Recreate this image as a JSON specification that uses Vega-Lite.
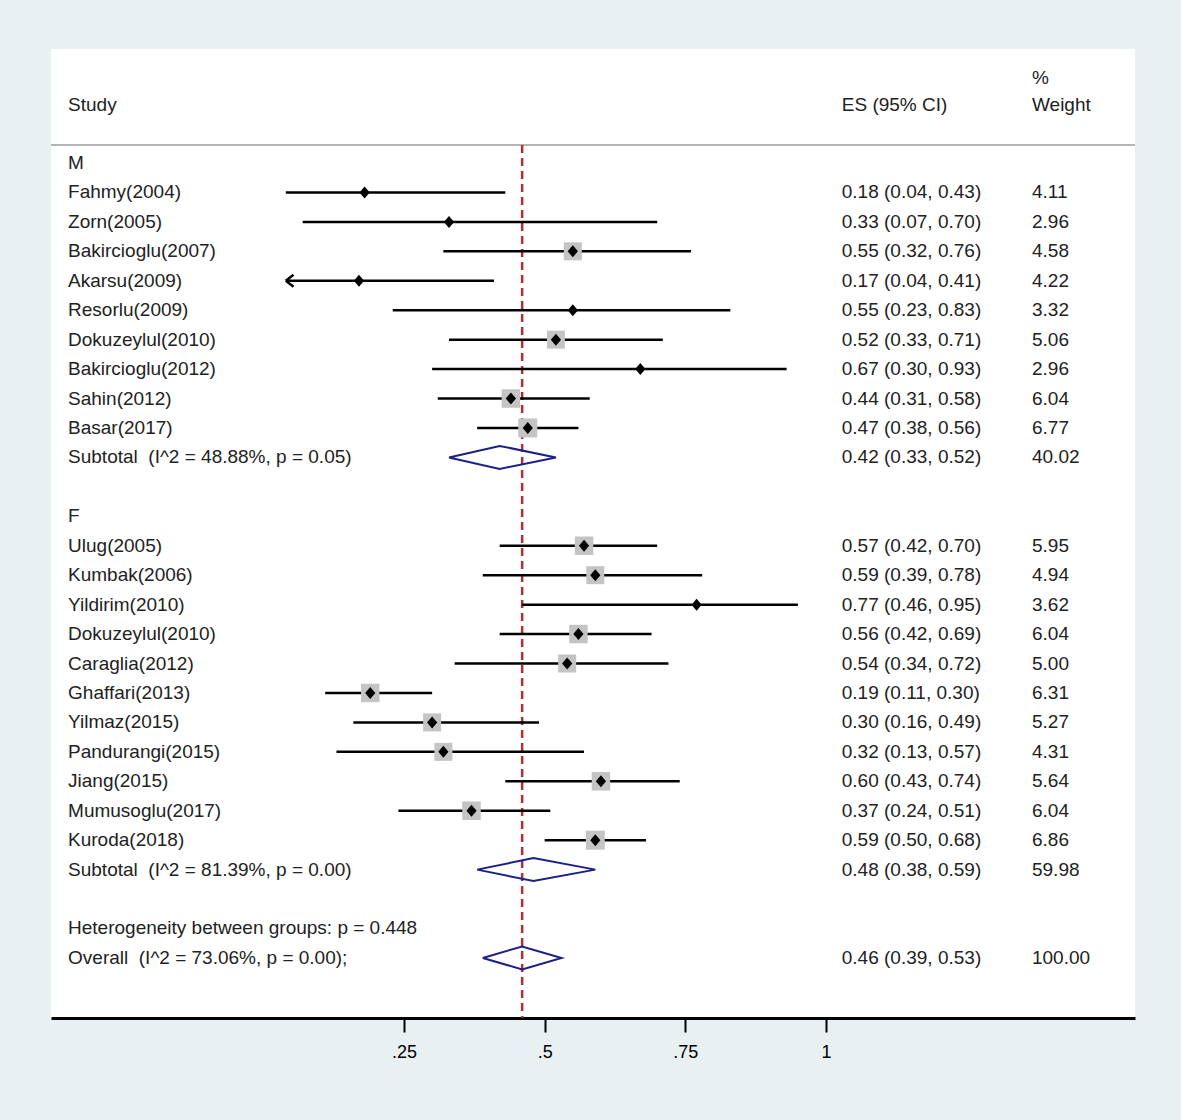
{
  "$schema": "https://vega.github.io/schema/vega-lite/v6.json",
  "width": 1084,
  "height": 969,
  "autosize": {"type": "none"},
  "padding": {"left": 51, "top": 49, "right": 46, "bottom": 102},
  "background": "#e8f0f2",
  "config": {
    "view": {"fill": "#ffffff", "stroke": null},
    "font": "Liberation Sans",
    "axisY": {"disable": true},
    "axisX": {
      "grid": false,
      "title": null,
      "domainColor": "#000000",
      "domainWidth": 3,
      "tickColor": "#000000",
      "tickWidth": 2,
      "tickSize": 14,
      "labelFont": "Liberation Sans",
      "labelFontSize": 18,
      "labelColor": "#000000",
      "labelPadding": 11
    },
    "text": {"font": "Liberation Sans", "fontSize": 19, "fill": "#222222", "align": "left", "baseline": "middle"}
  },
  "datasets": {
    "rows": [
      {"row": -2.89, "wt": "%", "kind": "header"},
      {"row": -1.97, "label": "Study", "estext": "ES (95% CI)", "wt": "Weight", "kind": "header"},
      {"row": 0, "label": "M", "kind": "group"},
      {"row": 1, "label": "Fahmy(2004)", "kind": "study", "es": 0.18, "lo": 0.04, "hi": 0.43, "weight": 4.11, "estext": "0.18 (0.04, 0.43)", "wt": "4.11"},
      {"row": 2, "label": "Zorn(2005)", "kind": "study", "es": 0.33, "lo": 0.07, "hi": 0.70, "weight": 2.96, "estext": "0.33 (0.07, 0.70)", "wt": "2.96"},
      {"row": 3, "label": "Bakircioglu(2007)", "kind": "study", "es": 0.55, "lo": 0.32, "hi": 0.76, "weight": 4.58, "estext": "0.55 (0.32, 0.76)", "wt": "4.58"},
      {"row": 4, "label": "Akarsu(2009)", "kind": "study", "es": 0.17, "lo": 0.04, "hi": 0.41, "weight": 4.22, "estext": "0.17 (0.04, 0.41)", "wt": "4.22", "arrow": "left"},
      {"row": 5, "label": "Resorlu(2009)", "kind": "study", "es": 0.55, "lo": 0.23, "hi": 0.83, "weight": 3.32, "estext": "0.55 (0.23, 0.83)", "wt": "3.32"},
      {"row": 6, "label": "Dokuzeylul(2010)", "kind": "study", "es": 0.52, "lo": 0.33, "hi": 0.71, "weight": 5.06, "estext": "0.52 (0.33, 0.71)", "wt": "5.06"},
      {"row": 7, "label": "Bakircioglu(2012)", "kind": "study", "es": 0.67, "lo": 0.30, "hi": 0.93, "weight": 2.96, "estext": "0.67 (0.30, 0.93)", "wt": "2.96"},
      {"row": 8, "label": "Sahin(2012)", "kind": "study", "es": 0.44, "lo": 0.31, "hi": 0.58, "weight": 6.04, "estext": "0.44 (0.31, 0.58)", "wt": "6.04"},
      {"row": 9, "label": "Basar(2017)", "kind": "study", "es": 0.47, "lo": 0.38, "hi": 0.56, "weight": 6.77, "estext": "0.47 (0.38, 0.56)", "wt": "6.77"},
      {"row": 10, "label": "Subtotal\u00a0\u00a0(I^2 = 48.88%, p = 0.05)", "kind": "subtotal", "es": 0.42, "lo": 0.33, "hi": 0.52, "weight": 40.02, "estext": "0.42 (0.33, 0.52)", "wt": "40.02"},
      {"row": 12, "label": "F", "kind": "group"},
      {"row": 13, "label": "Ulug(2005)", "kind": "study", "es": 0.57, "lo": 0.42, "hi": 0.70, "weight": 5.95, "estext": "0.57 (0.42, 0.70)", "wt": "5.95"},
      {"row": 14, "label": "Kumbak(2006)", "kind": "study", "es": 0.59, "lo": 0.39, "hi": 0.78, "weight": 4.94, "estext": "0.59 (0.39, 0.78)", "wt": "4.94"},
      {"row": 15, "label": "Yildirim(2010)", "kind": "study", "es": 0.77, "lo": 0.46, "hi": 0.95, "weight": 3.62, "estext": "0.77 (0.46, 0.95)", "wt": "3.62"},
      {"row": 16, "label": "Dokuzeylul(2010)", "kind": "study", "es": 0.56, "lo": 0.42, "hi": 0.69, "weight": 6.04, "estext": "0.56 (0.42, 0.69)", "wt": "6.04"},
      {"row": 17, "label": "Caraglia(2012)", "kind": "study", "es": 0.54, "lo": 0.34, "hi": 0.72, "weight": 5.00, "estext": "0.54 (0.34, 0.72)", "wt": "5.00"},
      {"row": 18, "label": "Ghaffari(2013)", "kind": "study", "es": 0.19, "lo": 0.11, "hi": 0.30, "weight": 6.31, "estext": "0.19 (0.11, 0.30)", "wt": "6.31"},
      {"row": 19, "label": "Yilmaz(2015)", "kind": "study", "es": 0.30, "lo": 0.16, "hi": 0.49, "weight": 5.27, "estext": "0.30 (0.16, 0.49)", "wt": "5.27"},
      {"row": 20, "label": "Pandurangi(2015)", "kind": "study", "es": 0.32, "lo": 0.13, "hi": 0.57, "weight": 4.31, "estext": "0.32 (0.13, 0.57)", "wt": "4.31"},
      {"row": 21, "label": "Jiang(2015)", "kind": "study", "es": 0.60, "lo": 0.43, "hi": 0.74, "weight": 5.64, "estext": "0.60 (0.43, 0.74)", "wt": "5.64"},
      {"row": 22, "label": "Mumusoglu(2017)", "kind": "study", "es": 0.37, "lo": 0.24, "hi": 0.51, "weight": 6.04, "estext": "0.37 (0.24, 0.51)", "wt": "6.04"},
      {"row": 23, "label": "Kuroda(2018)", "kind": "study", "es": 0.59, "lo": 0.50, "hi": 0.68, "weight": 6.86, "estext": "0.59 (0.50, 0.68)", "wt": "6.86"},
      {"row": 24, "label": "Subtotal\u00a0\u00a0(I^2 = 81.39%, p = 0.00)", "kind": "subtotal", "es": 0.48, "lo": 0.38, "hi": 0.59, "weight": 59.98, "estext": "0.48 (0.38, 0.59)", "wt": "59.98"},
      {"row": 26, "label": "Heterogeneity between groups: p = 0.448", "kind": "note"},
      {"row": 27, "label": "Overall\u00a0\u00a0(I^2 = 73.06%, p = 0.00);", "kind": "overall", "es": 0.46, "lo": 0.39, "hi": 0.53, "weight": 100.0, "estext": "0.46 (0.39, 0.53)", "wt": "100.00"}
    ],
    "diamonds": [
      {"g": "M", "v": 1, "x": 0.33, "y": 10},
      {"g": "M", "v": 2, "x": 0.42, "y": 9.61},
      {"g": "M", "v": 3, "x": 0.52, "y": 10},
      {"g": "M", "v": 4, "x": 0.42, "y": 10.39},
      {"g": "M", "v": 5, "x": 0.33, "y": 10},
      {"g": "F", "v": 1, "x": 0.38, "y": 24},
      {"g": "F", "v": 2, "x": 0.48, "y": 23.61},
      {"g": "F", "v": 3, "x": 0.59, "y": 24},
      {"g": "F", "v": 4, "x": 0.48, "y": 24.39},
      {"g": "F", "v": 5, "x": 0.38, "y": 24},
      {"g": "Overall", "v": 1, "x": 0.39, "y": 27},
      {"g": "Overall", "v": 2, "x": 0.46, "y": 26.61},
      {"g": "Overall", "v": 3, "x": 0.53, "y": 27},
      {"g": "Overall", "v": 4, "x": 0.46, "y": 27.39},
      {"g": "Overall", "v": 5, "x": 0.39, "y": 27}
    ]
  },
  "layer": [
    {
      "data": {"values": [{"sep": "header"}]},
      "mark": {"type": "rule", "color": "#b4b4b4", "strokeWidth": 2},
      "encoding": {
        "y": {"datum": -0.611, "type": "quantitative", "scale": {"domain": [-3.872, 29.04], "reverse": true, "nice": false, "zero": false}}
      }
    },
    {
      "data": {"name": "rows"},
      "transform": [{"filter": "datum.kind == 'overall'"}],
      "mark": {"type": "rule", "color": "#b0303a", "strokeWidth": 2.5, "strokeDash": [8, 5]},
      "encoding": {
        "x": {"field": "es", "type": "quantitative", "scale": {"domain": [-0.3773, 1.5491], "nice": false, "zero": false},
              "axis": {"values": [0.25, 0.5, 0.75, 1], "labelExpr": "datum.value == 1 ? '1' : substring(format(datum.value, '.2~f'), 1)"}},
        "y": {"datum": -0.611, "type": "quantitative", "scale": {"domain": [-3.872, 29.04], "reverse": true, "nice": false, "zero": false}},
        "y2": {"datum": 29.04}
      }
    },
    {
      "data": {"name": "rows"},
      "transform": [{"filter": "datum.kind == 'study'"}],
      "mark": {"type": "rule", "color": "#000000", "strokeWidth": 2.5},
      "encoding": {
        "x": {"field": "lo", "type": "quantitative", "scale": {"domain": [-0.3773, 1.5491], "nice": false, "zero": false},
              "axis": {"values": [0.25, 0.5, 0.75, 1], "labelExpr": "datum.value == 1 ? '1' : substring(format(datum.value, '.2~f'), 1)"}},
        "x2": {"field": "hi"},
        "y": {"field": "row", "type": "quantitative", "scale": {"domain": [-3.872, 29.04], "reverse": true, "nice": false, "zero": false}}
      }
    },
    {
      "data": {"name": "rows"},
      "transform": [{"filter": "datum.arrow == 'left'"}],
      "mark": {"type": "point", "shape": "M0,0L1.1,-0.85M0,0L1.1,0.85", "filled": false, "stroke": "#000000", "strokeWidth": 2.5, "size": 196, "opacity": 1},
      "encoding": {
        "x": {"field": "lo", "type": "quantitative", "scale": {"domain": [-0.3773, 1.5491], "nice": false, "zero": false}},
        "y": {"field": "row", "type": "quantitative", "scale": {"domain": [-3.872, 29.04], "reverse": true, "nice": false, "zero": false}}
      }
    },
    {
      "data": {"name": "rows"},
      "transform": [{"filter": "datum.kind == 'study'"}],
      "mark": {"type": "point", "shape": "square", "filled": true, "color": "#c4c4c4", "opacity": 1},
      "encoding": {
        "x": {"field": "es", "type": "quantitative", "scale": {"domain": [-0.3773, 1.5491], "nice": false, "zero": false}},
        "y": {"field": "row", "type": "quantitative", "scale": {"domain": [-3.872, 29.04], "reverse": true, "nice": false, "zero": false}},
        "size": {"field": "weight", "type": "quantitative", "scale": {"type": "threshold", "domain": [4.25, 5.5, 6.5], "range": [0, 324, 342, 361]}, "legend": null}
      }
    },
    {
      "data": {"name": "rows"},
      "transform": [{"filter": "datum.kind == 'study'"}],
      "mark": {"type": "point", "shape": "M-0.85,0L0,-1L0.85,0L0,1Z", "filled": true, "color": "#000000", "size": 144, "opacity": 1},
      "encoding": {
        "x": {"field": "es", "type": "quantitative", "scale": {"domain": [-0.3773, 1.5491], "nice": false, "zero": false}},
        "y": {"field": "row", "type": "quantitative", "scale": {"domain": [-3.872, 29.04], "reverse": true, "nice": false, "zero": false}}
      }
    },
    {
      "data": {"name": "diamonds"},
      "mark": {"type": "line", "color": "#1c1f86", "strokeWidth": 2},
      "encoding": {
        "x": {"field": "x", "type": "quantitative", "scale": {"domain": [-0.3773, 1.5491], "nice": false, "zero": false}},
        "y": {"field": "y", "type": "quantitative", "scale": {"domain": [-3.872, 29.04], "reverse": true, "nice": false, "zero": false}},
        "detail": {"field": "g", "type": "nominal"},
        "order": {"field": "v", "type": "quantitative"}
      }
    },
    {
      "data": {"name": "rows"},
      "transform": [{"filter": "isValid(datum.label)"}],
      "mark": {"type": "text"},
      "encoding": {
        "x": {"datum": -0.347, "type": "quantitative", "scale": {"domain": [-0.3773, 1.5491], "nice": false, "zero": false}},
        "y": {"field": "row", "type": "quantitative", "scale": {"domain": [-3.872, 29.04], "reverse": true, "nice": false, "zero": false}},
        "text": {"field": "label"}
      }
    },
    {
      "data": {"name": "rows"},
      "transform": [{"filter": "isValid(datum.estext)"}],
      "mark": {"type": "text"},
      "encoding": {
        "x": {"datum": 1.028, "type": "quantitative", "scale": {"domain": [-0.3773, 1.5491], "nice": false, "zero": false}},
        "y": {"field": "row", "type": "quantitative", "scale": {"domain": [-3.872, 29.04], "reverse": true, "nice": false, "zero": false}},
        "text": {"field": "estext"}
      }
    },
    {
      "data": {"name": "rows"},
      "transform": [{"filter": "isValid(datum.wt)"}],
      "mark": {"type": "text"},
      "encoding": {
        "x": {"datum": 1.366, "type": "quantitative", "scale": {"domain": [-0.3773, 1.5491], "nice": false, "zero": false}},
        "y": {"field": "row", "type": "quantitative", "scale": {"domain": [-3.872, 29.04], "reverse": true, "nice": false, "zero": false}},
        "text": {"field": "wt"}
      }
    }
  ]
}
